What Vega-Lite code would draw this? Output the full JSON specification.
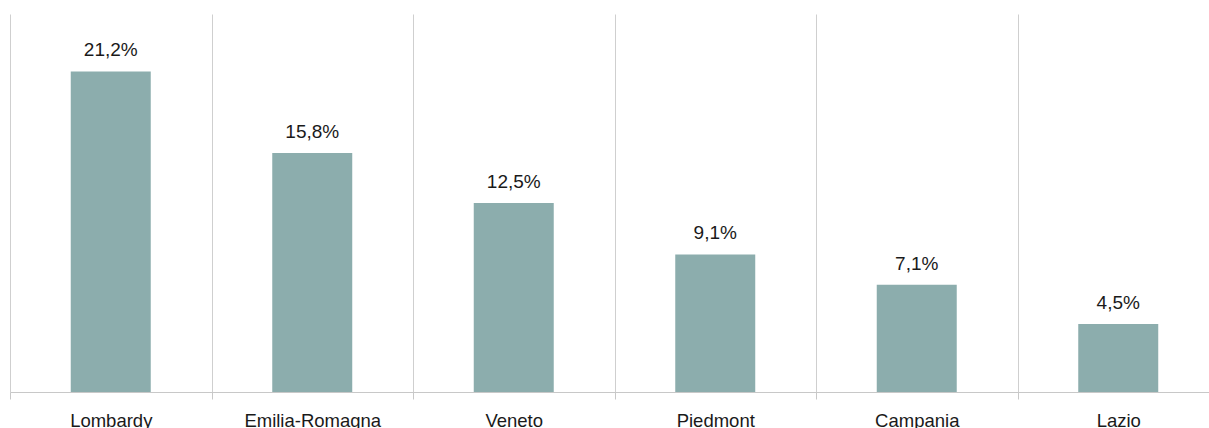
{
  "$schema": "https://vega.github.io/schema/vega-lite/v6.json",
  "width": 1209,
  "height": 378,
  "autosize": {"type": "none"},
  "padding": {"left": 10, "top": 14, "right": 0, "bottom": 36},
  "background": "white",
  "data": {
    "values": [
      {"region": "Lombardy", "share": 21.2, "label": "21,2%"},
      {"region": "Emilia-Romagna", "share": 15.8, "label": "15,8%"},
      {"region": "Veneto", "share": 12.5, "label": "12,5%"},
      {"region": "Piedmont", "share": 9.1, "label": "9,1%"},
      {"region": "Campania", "share": 7.1, "label": "7,1%"},
      {"region": "Lazio", "share": 4.5, "label": "4,5%"}
    ]
  },
  "config": {
    "view": {"stroke": null},
    "font": "Liberation Sans"
  },
  "encoding": {
    "x": {
      "field": "region",
      "type": "nominal",
      "sort": null,
      "scale": {"paddingInner": 0, "paddingOuter": 0},
      "axis": {
        "title": null,
        "labelAngle": 0,
        "labelFont": "Liberation Sans",
        "labelFontSize": 18.5,
        "labelColor": "#1a1a1a",
        "labelPadding": 12,
        "labelBaseline": "top",
        "tickBand": "extent",
        "tickSize": 7,
        "tickColor": "#c8c8c8",
        "domainColor": "#c8c8c8",
        "grid": true,
        "gridColor": "#cfcfcf",
        "gridWidth": 1
      }
    },
    "y": {
      "field": "share",
      "type": "quantitative",
      "scale": {"domain": [0, 25], "nice": false},
      "axis": null
    }
  },
  "layer": [
    {"mark": {"type": "bar", "color": "#8cadad", "width": {"band": 0.397}}},
    {
      "mark": {"type": "text", "baseline": "alphabetic", "dy": -15, "fontSize": 19, "color": "#1a1a1a", "font": "Liberation Sans"},
      "encoding": {"text": {"field": "label"}}
    }
  ]
}
